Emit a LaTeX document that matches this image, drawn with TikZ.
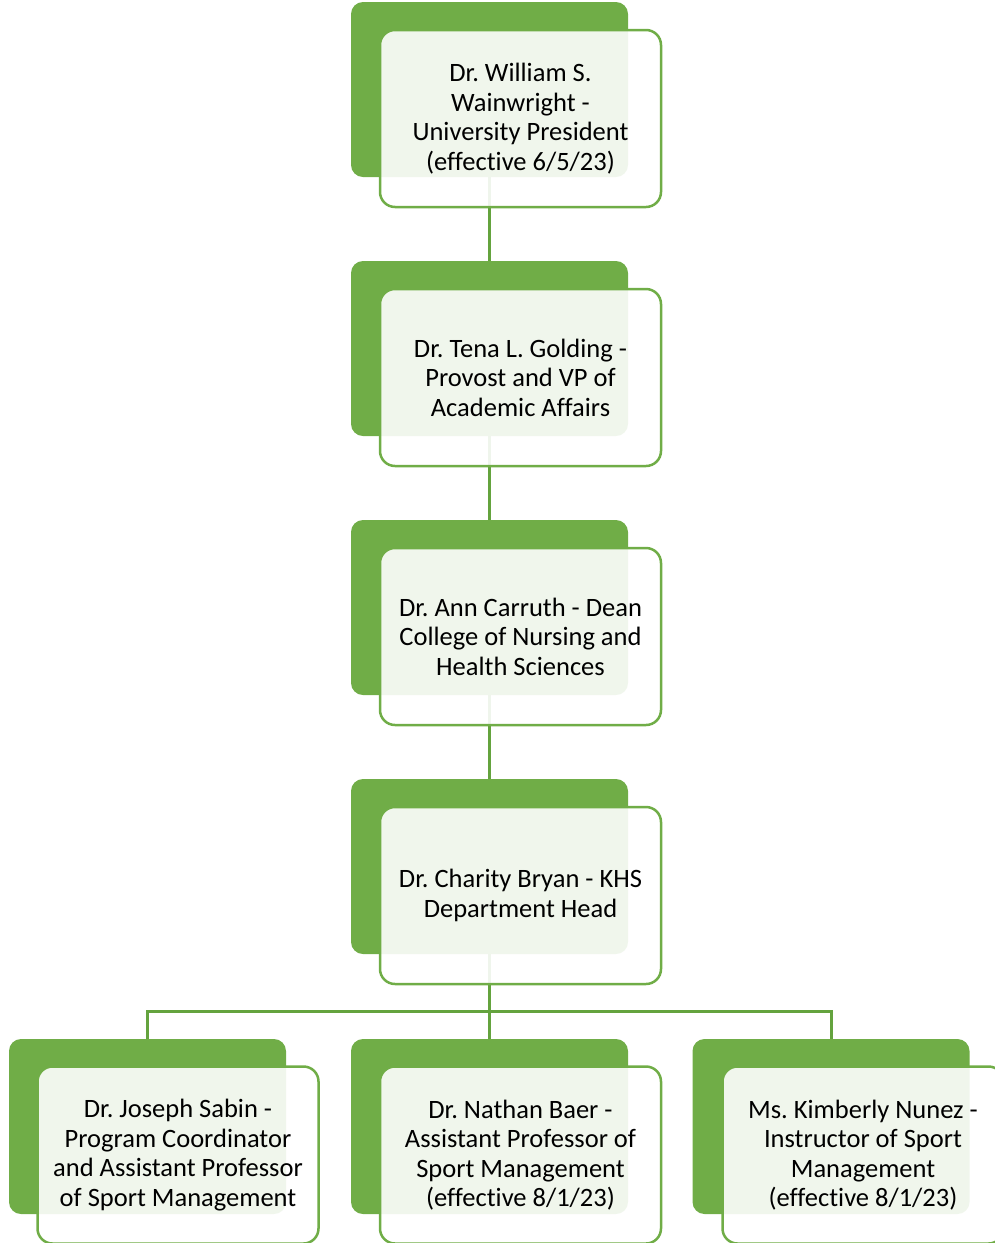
\documentclass[tikz,border=0pt]{standalone}
\usepackage{fontspec}
\setmainfont[Ligatures=NoCommon]{Carlito}
\frenchspacing
\definecolor{leaf}{RGB}{112,173,71}
\definecolor{stem}{RGB}{100,163,62}
\tikzset{
  backbox/.style={fill=leaf, rounded corners=12pt, minimum width=277pt, minimum height=175pt, inner sep=0pt, outer sep=0pt},
  frontbox/.style={draw=leaf, line width=2.5pt, fill=white, fill opacity=0.9, text opacity=1, rounded corners=15pt, minimum width=281pt, minimum height=177pt, inner sep=0pt, align=center, font=\fontsize{26.5}{29.5}\selectfont},
  link/.style={draw=stem, line width=3pt}
}
\begin{document}
\begin{tikzpicture}[x=1pt, y=-1pt]
  \useasboundingbox (0,0) rectangle (995,1243);
  \clip (0,0) rectangle (995,1243);

  % Back tiles
  \node[backbox] (boss1) at (489.5,89.5) {};
  \node[backbox] (boss2) at (489.5,348.5) {};
  \node[backbox] (boss3) at (489.5,607.5) {};
  \node[backbox] (boss4) at (489.5,866.5) {};
  \node[backbox] (staff1) at (147.5,1126.5) {};
  \node[backbox] (staff2) at (489.5,1126.5) {};
  \node[backbox] (staff3) at (831,1126.5) {};

  % Links
  \draw[link] (boss1.south) -- (boss2.north);
  \draw[link] (boss2.south) -- (boss3.north);
  \draw[link] (boss3.south) -- (boss4.north);
  \draw[link] (boss4.south) -- (staff2.north);
  \coordinate (fork) at (489.5,1011);
  \draw[link] (staff1.north) |- (fork) -| (staff3.north);

  % Front cards
  \node[frontbox] (p1) at (520.5,118.5) {Dr. William S.\\Wainwright -\\University President\\(effective 6/5/23)};
  \node[frontbox] (p2) at (520.5,377.5) {Dr. Tena L. Golding -\\Provost and VP of\\Academic Affairs};
  \node[frontbox] (p3) at (520.5,636.5) {Dr. Ann Carruth - Dean\\College of Nursing and\\Health Sciences};
  \node[frontbox] (p4) at (520.5,895.5) {Dr. Charity Bryan - KHS\\Department Head};
  \node[frontbox] (s1) at (178,1155) {Dr. Joseph Sabin -\\Program Coordinator\\and Assistant Professor\\of Sport Management};
  \node[frontbox] (s2) at (520.5,1155) {Dr. Nathan Baer -\\Assistant Professor of\\Sport Management\\(effective 8/1/23)};
  \node[frontbox] (s3) at (863,1155) {Ms. Kimberly Nunez -\\Instructor of Sport\\Management\\(effective 8/1/23)};
\end{tikzpicture}
\end{document}
